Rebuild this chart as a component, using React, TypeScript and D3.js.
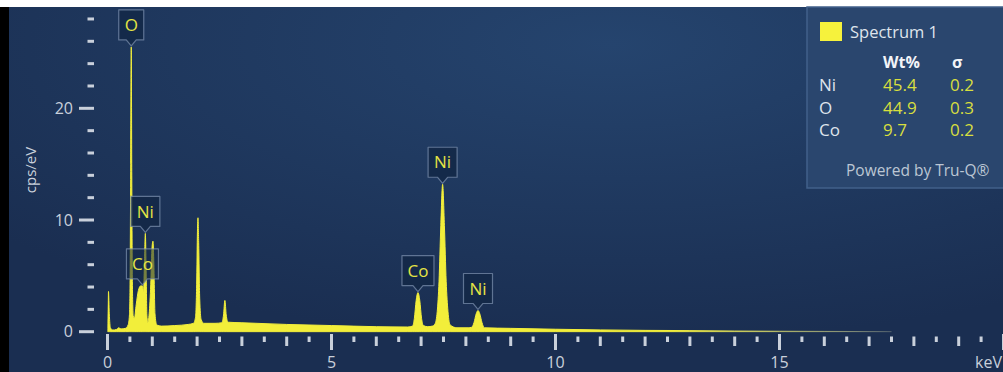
import React from 'react';
import * as d3 from 'd3';

// spectrum: [energy keV, cps/eV]
const spectrum: [number, number][] = [
  [0, 0.3], [0.01, 2.0], [0.022, 3.6], [0.04, 1.6], [0.065, 0.35], [0.12, 0.15], [0.2, 0.2],
  [0.25, 0.35], [0.3, 0.25], [0.4, 0.3], [0.46, 0.6],
  [0.49, 1.5], [0.505, 5], [0.518, 15], [0.53, 25.5], [0.542, 14], [0.555, 4.5], [0.575, 1.4],
  [0.6, 1.2], [0.64, 2.4], [0.69, 3.7], [0.74, 4.1], [0.78, 4.1], [0.805, 3.6],
  [0.825, 6.2], [0.845, 8.8], [0.862, 5.5], [0.88, 1.4], [0.9, 0.8], [0.93, 1.6],
  [0.965, 4.2], [0.995, 7.6], [1.015, 8.1], [1.035, 6.0], [1.06, 1.6], [1.1, 0.6], [1.2, 0.5],
  [1.5, 0.55], [1.8, 0.65], [1.92, 0.75], [1.965, 1.3], [1.99, 4.2], [2.008, 9.0], [2.02, 10.2],
  [2.035, 8.0], [2.058, 3.0], [2.09, 1.1], [2.15, 0.75], [2.4, 0.75],
  [2.55, 0.8], [2.59, 1.5], [2.62, 2.8], [2.65, 1.5], [2.69, 0.85],
  [3, 0.8], [4, 0.65], [5, 0.55], [6, 0.45], [6.7, 0.42],
  [6.81, 0.5], [6.85, 1.2], [6.89, 2.8], [6.93, 3.5], [6.97, 2.8], [7.01, 1.2], [7.05, 0.55],
  [7.15, 0.45], [7.25, 0.5],
  [7.31, 0.7], [7.36, 1.8], [7.4, 4.5], [7.44, 9.5], [7.48, 13.2], [7.52, 9.5], [7.56, 4.5],
  [7.6, 1.8], [7.65, 0.6], [7.8, 0.35], [8.05, 0.35],
  [8.13, 0.4], [8.18, 0.8], [8.23, 1.6], [8.27, 1.9], [8.31, 1.6], [8.36, 0.8], [8.41, 0.35],
  [9, 0.3], [10, 0.22], [11, 0.16], [12, 0.12], [13, 0.1], [14, 0.07], [15, 0.05], [16, 0.03],
  [17, 0.01], [17.5, 0],
];

const peakLabels: [string, number][] = [
  ['O', 0.53], ['Co', 0.78], ['Ni', 0.845], ['Co', 6.93], ['Ni', 7.48], ['Ni', 8.27],
];

const xMajor = [0, 5, 10, 15, 20];
const xTickLabels = ['0', '5', '10', '15', 'keV'];
const yMajor = [0, 10, 20];

const elements = ['Ni', 'O', 'Co'];
const wtPct = ['45.4', '44.9', '9.7'];
const sigma = ['0.2', '0.3', '0.2'];

const W = 1003;
const H = 372;
const font = '"Open Sans", "Noto Sans", sans-serif';
const tickCol = '#c9d0db';
const yellow = '#f2ee3a';

export default function App() {
  const x = d3.scaleLinear().domain([0, 20]).range([107.5, 1003.5]);
  const y = d3.scaleLinear().domain([0, 29]).range([331.7, 7.8]);

  const area = d3
    .area<[number, number]>()
    .x(d => x(d[0]))
    .y0(y(0))
    .y1(d => y(d[1]))
    .curve(d3.curveMonotoneX);

  const xTicks = d3.range(0, 20.001, 0.5);
  const yTicks = d3.range(0, 28.001, 2);

  const peakAt = (e: number) =>
    d3.max(spectrum.filter(p => Math.abs(p[0] - e) < 0.015), p => p[1]) || 0;

  return (
    <svg width={W} height={H} style={{ position: 'absolute', left: 0, top: 0, display: 'block' }}>
      <defs>
        <radialGradient id="bg" cx="0.6" cy="0.1" r="0.8">
          <stop offset="0" stopColor="#25446e" />
          <stop offset="1" stopColor="#1a2e51" />
        </radialGradient>
        <linearGradient id="tail" gradientUnits="userSpaceOnUse" x1={x(12.5)} x2={x(17.5)} y1="0" y2="0">
          <stop offset="0" stopColor={yellow} stopOpacity="1" />
          <stop offset="1" stopColor="#b8bfa0" stopOpacity="0.2" />
        </linearGradient>
        <clipPath id="plot">
          <rect x={x(0)} y={7} width={W} height={y(0) - 7 + 1} />
        </clipPath>
      </defs>
      <rect x={0} y={0} width={W} height={H} fill="#ffffff" />
      <rect x={0} y={7} width={W} height={H} fill="#000000" />
      <rect x={9} y={7} width={W} height={H} fill="url(#bg)" />

      {/* y axis */}
      {yTicks.map(t => {
        const major = yMajor.includes(t);
        return (
          <line key={t} x1={major ? 79 : 87.5} x2={94} y1={y(t)} y2={y(t)}
            stroke={tickCol} strokeWidth={3} />
        );
      })}
      {yMajor.map(t => (
        <text key={t} x={73} y={y(t)} dy="0.35em" textAnchor="end" fontFamily={font}
          fontSize={16} fill={tickCol}>{t}</text>
      ))}
      <text transform={`translate(36,${170}) rotate(-90)`} textAnchor="middle" fontFamily={font}
        fontSize={15} fill={tickCol}>cps/eV</text>

      {/* x axis */}
      {xTicks.map(t => {
        const major = t % 5 === 0;
        const mid = t % 1 === 0;
        return (
          <line key={t} x1={x(t)} x2={x(t)} y1={major ? 334 : 336.5}
            y2={major ? 350 : mid ? 346 : 342} stroke={tickCol} strokeWidth={3} />
        );
      })}
      {xMajor.map((t, i) => (
        <text key={t} x={i === 4 ? 1002 : x(t)} y={368} textAnchor={i === 4 ? 'end' : 'middle'}
          fontFamily={font} fontSize={16} fill={tickCol}>{xTickLabels[i]}</text>
      ))}

      {/* spectrum */}
      <g clipPath="url(#plot)">
        <path d={area(spectrum) || ''} fill="url(#tail)" stroke="url(#tail)" strokeWidth={1} />
      </g>

      {/* peak labels */}
      {peakLabels.map(([el, e], i) => {
        const cx = x(e);
        const tip = y(peakAt(e)) - 1;
        const bw = el === 'O' ? 25 : el === 'Ni' ? 29 : 32;
        const bh = 30;
        const bottom = tip - 6;
        const top = bottom - bh;
        const l = cx - bw / 2;
        const r = cx + bw / 2;
        const d = `M${l},${top}H${r}V${bottom}H${cx + 5}L${cx},${tip}L${cx - 5},${bottom}H${l}Z`;
        return (
          <g key={i}>
            <path d={d} fill="#132846" fillOpacity={el === 'Co' && e < 1 ? 0.55 : 0.85}
              stroke="#7f93b0" strokeOpacity={0.7} strokeWidth={1.2} strokeLinejoin="round" />
            <text x={cx} y={top + bh / 2} dy="0.36em" textAnchor="middle" fontFamily={font}
              fontSize={17} fill="#e4e444">{el}</text>
          </g>
        );
      })}

      {/* legend */}
      <rect x={807} y={7} width={200} height={181} fill="#2a466e" stroke="#42608a" strokeWidth={1.5} />
      <rect x={820} y={22} width={22} height={19} fill="#f6f23c" />
      <text x={850} y={38} fontFamily={font} fontSize={16.5} fill="#dfe4ec">Spectrum 1</text>
      <text x={883} y={68} fontFamily={font} fontSize={16} fontWeight="bold" fill="#f2f4f8">Wt%</text>
      <text x={952} y={68} fontFamily={font} fontSize={16} fontWeight="bold" fill="#f2f4f8">σ</text>
      {elements.map((el, i) => (
        <g key={el} fontFamily={font} fontSize={17}>
          <text x={819} y={91 + i * 22.5} fill="#dfe4ec">{el}</text>
          <text x={883} y={91 + i * 22.5} fill="#d8df3e">{wtPct[i]}</text>
          <text x={950} y={91 + i * 22.5} fill="#d8df3e">{sigma[i]}</text>
        </g>
      ))}
      <text x={846} y={176} fontFamily={font} fontSize={15.5} fill="#bcc6d4">Powered by Tru-Q®</text>
    </svg>
  );
}
